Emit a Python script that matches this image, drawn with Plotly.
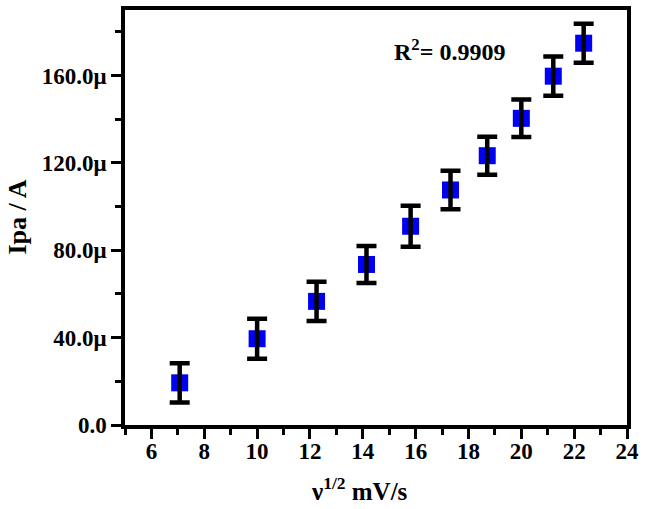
import plotly.graph_objects as go

# data (x: sqrt of scan rate, y: peak current in microamps)
x_vals = [7.07, 10.0, 12.25, 14.14, 15.81, 17.32, 18.71, 20.0, 21.21, 22.36]
ipa_uA = [19.3, 39.5, 56.6, 73.5, 91.0, 107.6, 123.3, 140.4, 159.7, 174.8]
err_uA = [9.0, 9.2, 9.0, 8.5, 9.4, 8.8, 8.7, 8.6, 9.0, 8.9]
x_ticks = [6, 8, 10, 12, 14, 16, 18, 20, 22, 24]
y_ticks = [0, 40, 80, 120, 160]
y_ticktext = ["0.0", "40.0μ", "80.0μ", "120.0μ", "160.0μ"]
r2_text = "R<sup>2</sup>= 0.9909"

FONT = "Liberation Serif"

fig = go.Figure()
fig.add_trace(go.Scatter(
    x=x_vals, y=ipa_uA, mode="markers",
    marker=dict(symbol="square", size=17, color="#0000F5", line=dict(width=0)),
    showlegend=False, hoverinfo="skip"))
fig.add_trace(go.Scatter(
    x=x_vals, y=ipa_uA, mode="markers",
    marker=dict(symbol="square", size=1, color="rgba(0,0,0,0)"),
    error_y=dict(type="data", array=err_uA, visible=True, color="black",
                 thickness=4.5, width=10),
    showlegend=False))

axis_common = dict(
    showline=True, linewidth=3.5, linecolor="black", mirror=True,
    ticks="outside", ticklen=10, tickwidth=3, tickcolor="black",
    showgrid=False, zeroline=False,
    tickfont=dict(family=FONT, size=23, color="black", weight="bold"),
)

fig.update_xaxes(range=[5, 24], tickvals=x_ticks, ticklabelstandoff=-7,
                 minor=dict(dtick=1, tick0=5, ticklen=6, tickwidth=3,
                            tickcolor="black", ticks="outside", showgrid=False),
                 **axis_common)
fig.update_yaxes(range=[0, 190], tickvals=y_ticks, ticktext=y_ticktext,
                 minor=dict(dtick=20, tick0=0, ticklen=6, tickwidth=3,
                            tickcolor="black", ticks="outside", showgrid=False),
                 **axis_common)

fig.add_annotation(text="Ipa / A", textangle=-90, showarrow=False,
                   xref="paper", yref="paper", x=0, y=0.5,
                   xanchor="center", yanchor="middle", xshift=-108,
                   font=dict(family=FONT, size=26, color="black", weight="bold"))
fig.add_annotation(text="ν<sup>1/2</sup> mV/s", showarrow=False,
                   xref="paper", yref="paper", x=0.5, y=0,
                   xanchor="center", yanchor="middle", xshift=-17, yshift=-64,
                   font=dict(family=FONT, size=25, color="black", weight="bold"))
fig.add_annotation(text=r2_text, showarrow=False,
                   xref="x", yref="y", x=15.1, y=171.6,
                   xanchor="left", yanchor="middle",
                   font=dict(family=FONT, size=24, color="black", weight="bold"))

fig.update_layout(
    width=645, height=509,
    margin=dict(l=125, r=16, t=6, b=84),
    paper_bgcolor="white", plot_bgcolor="white",
)

fig.write_html("out.html", config={"displayModeBar": False},
               post_script="document.body.style.margin='0';document.body.style.padding='0';")
